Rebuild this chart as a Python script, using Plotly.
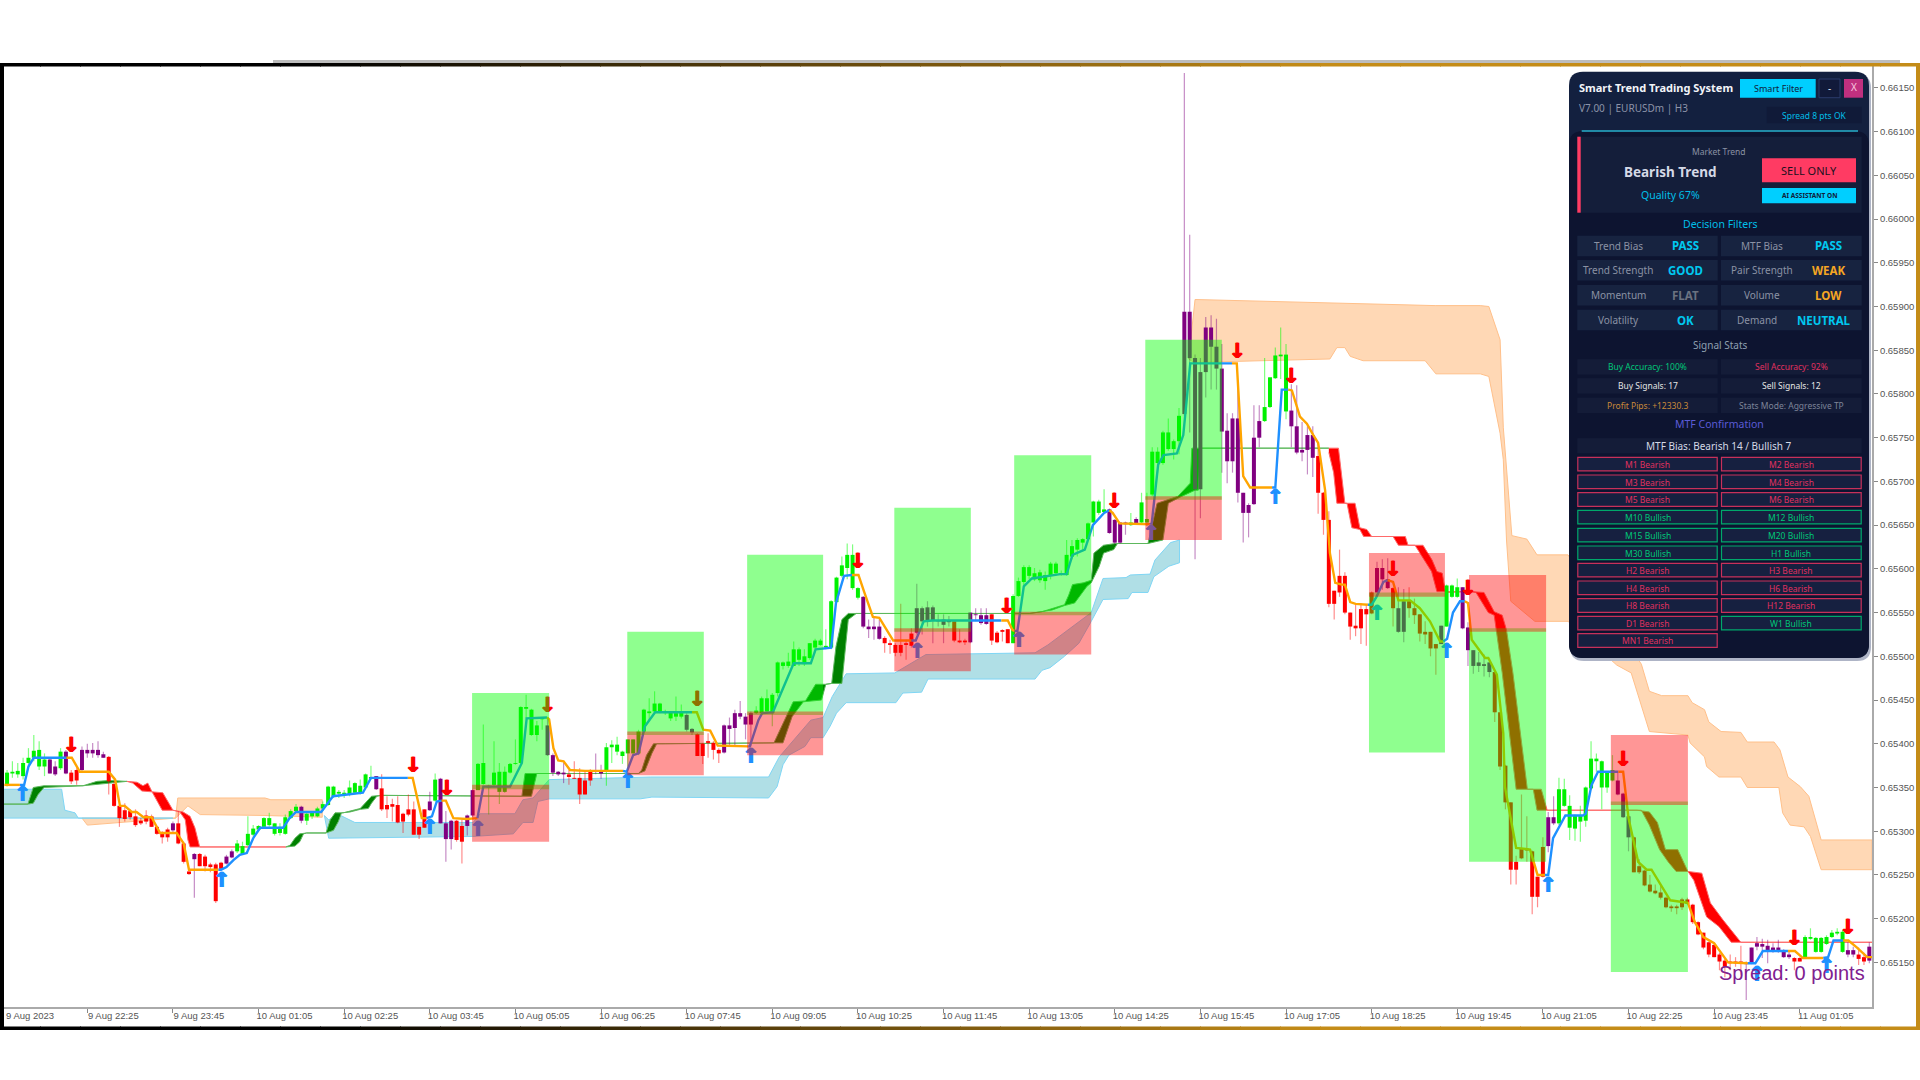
import plotly.graph_objects as go

# prices are in 1e-5 units (65150 = 0.65150), bars are counted from the left edge
bar_kind = (
    "G" * 8 + "PP" + "G" + "P" + "RR" + "P" * 5 + "R" * 12 + "P" + "RRR" + "P" + "R" * 5 + "PP" + "G"
    + "G" * 11 + "P" + "G" * 13 + "P" + "R" * 9 + "P" + "G" + "PPP" + "RR" + "PP"
    + "G" * 13 + "P" * 4 + "R" * 5 + "PP" + "G" * 15 + "PP" + "RRR"
    + "RR" + "P" * 6 + "G" * 20 + "P" * 4 + "R" * 6 + "P" * 7 + "RRR" + "P" * 4 + "R" * 4 + "G" * 18 + "P" * 4
    + "G" + "P" + "G"
    + "G" * 7 + "P" * 15 + "G" * 5 + "P" * 5 + "R" * 11 + "PPP" + "R" + "PP" + "R" * 6 + "P" + "GGG" + "P" * 6
    + "R" * 10 + "PP" + "G" * 11 + "PPP" + "R" * 21 + "P" * 9 + "RR" + "G" * 8 + "PP" + "RR" + "P"
)
bar_top = [
    65367, 65368, 65369, 65378, 65384, 65392, 65393, 65382, 65382, 65374, 65391, 65391, 65367, 65370, 65393,
    65393, 65393, 65393, 65388, 65385, 65354, 65329, 65324, 65323, 65317, 65312, 65318, 65317, 65305, 65299,
    65302, 65309, 65309, 65286, 65254, 65274, 65274, 65271, 65262, 65262, 65264, 65271, 65277, 65286,
    65283, 65297, 65303, 65306, 65315, 65315, 65309, 65305, 65316, 65323, 65328, 65328, 65320, 65321, 65326,
    65331, 65351, 65351, 65345, 65344, 65350, 65355, 65352, 65365, 65362, 65363, 65349, 65330, 65331, 65330,
    65320, 65325, 65325, 65305, 65325, 65334, 65359, 65360, 65309, 65312, 65312, 65306, 65318, 65347,
    65377, 65378, 65352, 65367, 65368, 65368, 65377, 65378, 65442, 65442, 65439, 65421, 65430, 65421, 65387,
    65368, 65367, 65365, 65361, 65361, 65358, 65370, 65370, 65370, 65396, 65399, 65399, 65391, 65405, 65405,
    65414, 65439, 65437, 65446, 65446, 65437, 65437, 65435, 65437, 65433, 65417, 65411, 65400, 65403,
    65401, 65393, 65421, 65421, 65435, 65435, 65431, 65435, 65438, 65452, 65452, 65456, 65493, 65493, 65494,
    65508, 65508, 65500, 65515, 65518, 65518, 65512, 65563, 65590, 65604, 65616, 65616, 65578, 65568, 65534,
    65534, 65534, 65521, 65515, 65513, 65513, 65515, 65526, 65555, 65555, 65556, 65556, 65541, 65542, 65541,
    65540, 65518, 65518, 65550, 65548, 65547, 65547, 65548, 65527, 65530, 65531, 65569, 65586, 65602, 65602,
    65595, 65596, 65593, 65606, 65606, 65595, 65616, 65626, 65633, 65634, 65652, 65677, 65677, 65668, 65668,
    65656, 65653, 65653, 65653, 65657, 65676,
    65657, 65734, 65734, 65756, 65756, 65746, 65775, 65894, 65894, 65841, 65825, 65876, 65876, 65854, 65829,
    65758, 65772, 65772, 65687, 65673, 65750, 65769, 65785, 65819, 65844, 65845, 65845, 65781, 65763, 65736,
    65753, 65753, 65729, 65687, 65656, 65575, 65592, 65592, 65550, 65535, 65554, 65554, 65573, 65601, 65601,
    65588, 65578, 65555, 65563, 65563, 65555, 65548, 65528, 65528, 65514, 65535, 65581, 65581, 65579, 65579,
    65533, 65507, 65493, 65491, 65493, 65482, 65436, 65375, 65333, 65265, 65280, 65280, 65277, 65248, 65282,
    65316, 65316, 65348, 65348, 65329, 65318, 65318, 65350, 65383, 65383, 65380, 65368, 65370, 65358, 65343,
    65317, 65293, 65260, 65255, 65239, 65232, 65230, 65224, 65214, 65214, 65222, 65222, 65216, 65196, 65184,
    65173, 65170, 65159, 65152, 65151, 65151, 65151, 65149, 65167, 65172, 65171, 65169, 65167, 65167, 65164,
    65159, 65155, 65155, 65179, 65179, 65178, 65178, 65179, 65184, 65185, 65185, 65164, 65164, 65159, 65156,
    65168,
]
bar_bottom = [
    65353, 65366, 65365, 65363, 65378, 65384, 65374, 65374, 65366, 65365, 65372, 65366, 65357, 65358, 65370,
    65389, 65389, 65387, 65384, 65357, 65329, 65315, 65314, 65316, 65307, 65309, 65311, 65305, 65297, 65293,
    65293, 65301, 65286, 65265, 65251, 65268, 65260, 65260, 65259, 65220, 65257, 65263, 65270, 65277,
    65274, 65284, 65296, 65302, 65305, 65307, 65297, 65298, 65297, 65315, 65323, 65312, 65312, 65317, 65317,
    65326, 65330, 65340, 65343, 65342, 65342, 65344, 65344, 65350, 65360, 65348, 65325, 65325, 65328, 65310,
    65311, 65319, 65296, 65296, 65304, 65324, 65335, 65309, 65291, 65291, 65290, 65288, 65306, 65318,
    65347, 65354, 65350, 65353, 65345, 65345, 65367, 65377, 65378, 65440, 65410, 65410, 65428, 65387, 65367,
    65365, 65365, 65362, 65360, 65342, 65342, 65358, 65368, 65366, 65368, 65396, 65391, 65386, 65389, 65389,
    65389, 65414, 65435, 65437, 65437, 65435, 65429, 65431, 65431, 65416, 65413, 65386, 65386, 65401,
    65393, 65389, 65390, 65417, 65418, 65431, 65422, 65422, 65435, 65435, 65437, 65435, 65458, 65489, 65489,
    65489, 65496, 65491, 65498, 65510, 65513, 65510, 65510, 65562, 65592, 65601, 65578, 65567, 65534, 65531,
    65531, 65520, 65515, 65513, 65504, 65504, 65513, 65512, 65527, 65540, 65540, 65541, 65540, 65536, 65539,
    65518, 65516, 65516, 65516, 65547, 65538, 65537, 65518, 65516, 65528, 65515, 65515, 65569, 65585, 65592,
    65588, 65587, 65586, 65592, 65595, 65593, 65593, 65614, 65622, 65630, 65634, 65653, 65664, 65665, 65641,
    65630, 65630, 65651, 65650, 65652, 65653,
    65653, 65685, 65721, 65721, 65737, 65737, 65746, 65777, 65841, 65691, 65691, 65825, 65854, 65829, 65757,
    65723, 65723, 65687, 65664, 65664, 65674, 65750, 65769, 65785, 65818, 65843, 65780, 65763, 65733, 65733,
    65736, 65727, 65687, 65656, 65560, 65560, 65573, 65550, 65534, 65532, 65532, 65548, 65549, 65573, 65588,
    65578, 65555, 65528, 65528, 65555, 65547, 65526, 65525, 65509, 65509, 65514, 65534, 65568, 65568, 65532,
    65507, 65489, 65489, 65489, 65482, 65436, 65374, 65333, 65256, 65256, 65269, 65278, 65225, 65225, 65248,
    65283, 65309, 65309, 65329, 65304, 65303, 65311, 65312, 65349, 65380, 65350, 65350, 65358, 65342, 65316,
    65293, 65253, 65253, 65238, 65231, 65229, 65224, 65213, 65212, 65212, 65213, 65217, 65196, 65182, 65167,
    65159, 65156, 65151, 65145, 65149, 65149, 65149, 65148, 65150, 65168, 65168, 65162, 65162, 65162, 65156,
    65156, 65151, 65151, 65154, 65177, 65162, 65162, 65171, 65179, 65183, 65162, 65159, 65159, 65154, 65151,
    65152,
]
bar_high = [
    65370, 65380, 65378, 65384, 65395, 65410, 65403, 65389, 65384, 65380, 65395, 65393, 65370, 65372, 65397,
    65400, 65401, 65403, 65391, 65386, 65357, 65330, 65332, 65325, 65325, 65315, 65324, 65319, 65306, 65300,
    65304, 65311, 65323, 65288, 65254, 65275, 65275, 65273, 65264, 65264, 65265, 65273, 65279, 65290,
    65288, 65317, 65307, 65307, 65316, 65321, 65309, 65309, 65319, 65325, 65331, 65329, 65321, 65321, 65328,
    65334, 65352, 65352, 65347, 65347, 65358, 65356, 65359, 65366, 65375, 65363, 65365, 65340, 65337, 65340,
    65321, 65342, 65334, 65305, 65325, 65345, 65366, 65361, 65323, 65313, 65313, 65313, 65319, 65348,
    65378, 65422, 65353, 65403, 65378, 65374, 65378, 65405, 65443, 65456, 65440, 65426, 65430, 65429, 65389,
    65369, 65378, 65370, 65380, 65372, 65368, 65371, 65389, 65376, 65401, 65404, 65408, 65392, 65405, 65405,
    65416, 65440, 65452, 65460, 65447, 65439, 65437, 65454, 65445, 65435, 65418, 65412, 65401, 65412,
    65403, 65395, 65422, 65430, 65439, 65449, 65435, 65437, 65443, 65454, 65462, 65458, 65494, 65494, 65504,
    65517, 65510, 65508, 65515, 65520, 65520, 65531, 65564, 65591, 65614, 65629, 65628, 65579, 65569, 65542,
    65544, 65542, 65523, 65519, 65515, 65560, 65519, 65532, 65583, 65557, 65563, 65558, 65548, 65548, 65546,
    65541, 65531, 65520, 65550, 65555, 65555, 65555, 65548, 65529, 65531, 65531, 65571, 65590, 65604, 65604,
    65601, 65599, 65597, 65608, 65608, 65598, 65633, 65633, 65635, 65635, 65653, 65678, 65679, 65691, 65669,
    65657, 65653, 65654, 65664, 65659, 65687,
    65687, 65739, 65739, 65758, 65772, 65748, 65784, 66167, 65982, 65845, 65841, 65888, 65890, 65886, 65857,
    65778, 65778, 65807, 65687, 65675, 65787, 65787, 65841, 65819, 65853, 65876, 65857, 65811, 65810, 65768,
    65763, 65763, 65745, 65688, 65666, 65575, 65622, 65596, 65550, 65559, 65561, 65559, 65574, 65608, 65611,
    65612, 65579, 65579, 65577, 65579, 65566, 65548, 65540, 65528, 65514, 65535, 65582, 65582, 65589, 65579,
    65539, 65507, 65505, 65502, 65494, 65483, 65436, 65376, 65333, 65272, 65342, 65317, 65278, 65248, 65293,
    65322, 65340, 65361, 65360, 65341, 65319, 65329, 65351, 65403, 65389, 65381, 65369, 65387, 65367, 65344,
    65317, 65294, 65268, 65256, 65250, 65239, 65239, 65225, 65216, 65216, 65224, 65224, 65217, 65197, 65184,
    65174, 65172, 65161, 65155, 65159, 65156, 65169, 65151, 65167, 65179, 65177, 65176, 65172, 65176, 65165,
    65162, 65156, 65156, 65181, 65189, 65179, 65179, 65181, 65187, 65189, 65187, 65173, 65168, 65167, 65161,
    65173,
]
bar_low = [
    65351, 65361, 65361, 65359, 65376, 65380, 65370, 65363, 65366, 65363, 65370, 65365, 65354, 65353, 65368,
    65384, 65384, 65384, 65384, 65342, 65328, 65305, 65311, 65313, 65305, 65307, 65308, 65305, 65296, 65286,
    65288, 65298, 65285, 65263, 65250, 65224, 65260, 65254, 65253, 65218, 65256, 65262, 65269, 65275,
    65273, 65283, 65294, 65300, 65305, 65305, 65295, 65295, 65296, 65314, 65321, 65309, 65307, 65314, 65316,
    65323, 65329, 65338, 65338, 65338, 65340, 65342, 65342, 65348, 65359, 65347, 65323, 65315, 65311, 65309,
    65298, 65317, 65296, 65291, 65304, 65323, 65334, 65309, 65265, 65279, 65288, 65263, 65295, 65316,
    65347, 65353, 65319, 65351, 65331, 65344, 65366, 65376, 65377, 65429, 65409, 65403, 65416, 65386, 65363,
    65363, 65355, 65353, 65360, 65331, 65342, 65352, 65365, 65360, 65352, 65378, 65387, 65377, 65374, 65387,
    65387, 65413, 65426, 65435, 65435, 65433, 65426, 65426, 65429, 65414, 65410, 65386, 65377, 65384,
    65382, 65378, 65389, 65397, 65397, 65428, 65405, 65397, 65434, 65433, 65435, 65420, 65454, 65485, 65487,
    65489, 65489, 65489, 65496, 65508, 65512, 65508, 65508, 65561, 65590, 65588, 65576, 65565, 65532, 65521,
    65519, 65519, 65504, 65503, 65500, 65500, 65496, 65510, 65525, 65525, 65534, 65515, 65534, 65515, 65534,
    65516, 65515, 65513, 65515, 65540, 65536, 65536, 65513, 65515, 65517, 65515, 65515, 65568, 65580, 65588,
    65586, 65584, 65576, 65588, 65592, 65592, 65592, 65611, 65614, 65620, 65632, 65637, 65662, 65664, 65640,
    65628, 65629, 65639, 65649, 65651, 65651,
    65649, 65683, 65710, 65719, 65735, 65725, 65731, 65775, 65756, 65611, 65658, 65796, 65805, 65805, 65710,
    65698, 65710, 65676, 65630, 65636, 65673, 65739, 65768, 65784, 65817, 65817, 65771, 65739, 65731, 65723,
    65708, 65705, 65663, 65639, 65556, 65542, 65568, 65548, 65519, 65523, 65514, 65512, 65548, 65573, 65576,
    65577, 65534, 65527, 65516, 65544, 65537, 65517, 65514, 65500, 65479, 65514, 65534, 65567, 65567, 65531,
    65489, 65480, 65482, 65477, 65476, 65425, 65370, 65325, 65239, 65239, 65268, 65265, 65205, 65213, 65247,
    65276, 65307, 65307, 65328, 65290, 65289, 65288, 65305, 65348, 65368, 65325, 65344, 65357, 65341, 65315,
    65277, 65253, 65251, 65237, 65230, 65228, 65222, 65212, 65208, 65205, 65210, 65216, 65194, 65181, 65165,
    65156, 65156, 65141, 65133, 65141, 65145, 65136, 65107, 65148, 65164, 65155, 65149, 65161, 65161, 65155,
    65154, 65141, 65151, 65154, 65176, 65161, 65161, 65170, 65178, 65181, 65161, 65156, 65156, 65147, 65147,
    65149,
]

# cloud bands: tops and bottoms of each cloud piece
peach_top_x = [
    [15, 32.5, 32.9, 49.2, 50.3, 59.9],
    [221.8, 223, 268, 276.3, 277.9, 280, 280.6, 282.2, 285, 286.9, 292.7, 306.4, 307.9, 310.2, 315.1, 315.9, 318.2,
     319, 321.3, 325, 326.2, 331.2, 332.3, 333.8, 336.1, 337.7, 340, 349.5],
]
peach_top_y = [
    [65315, 65315, 65338, 65338, 65336, 65336],
    [65840, 65908, 65901, 65901, 65900, 65862, 65762, 65638, 65634, 65616, 65616, 65491, 65460, 65455, 65455, 65447,
     65439, 65425, 65414, 65413, 65402, 65402, 65393, 65362, 65351, 65340, 65290, 65290],
]
peach_bot_x = [
    [15, 16, 32.5, 34.8, 37.1, 49.2, 59.9],
    [221.8, 222.8, 248.2, 249.5, 251, 252, 254.4, 266, 268, 276.3, 277.9, 280, 280.6, 281.2, 282, 286.5, 292.7, 301.8,
     304.5, 307.9, 315.1, 315.5, 318.2, 318.6, 320.9, 325, 326.2, 332.1, 332.8, 334.2, 336.8, 338, 340, 349.5],
]
peach_bot_y = [
    [65315, 65307, 65315, 65329, 65319, 65318, 65316],
    [65840, 65836, 65840, 65853, 65853, 65843, 65838, 65838, 65823, 65823, 65820, 65755, 65725, 65633, 65563, 65540,
     65540, 65490, 65481, 65414, 65410, 65401, 65385, 65374, 65362, 65362, 65350, 65350, 65321, 65307, 65305, 65294,
     65256, 65256],
]
blue_top_x = [
    [0.4, 11.2, 11.8, 13.7, 14.3, 32],
    [60.3, 61.1, 63, 66, 88.1, 89.4, 95.9, 97.4, 99.3, 102.3, 121.2, 143.3, 145.3, 147.5, 151.2, 153.5, 155.2, 157.8,
     166.9, 172.7, 193.1, 195.5, 198.6, 203.6, 205.8, 210.1, 210.9, 214.6, 215.5, 218.4, 220.1],
]
blue_top_y = [
    [65348, 65348, 65324, 65321, 65315, 65315],
    [65318, 65313, 65319, 65310, 65310, 65320, 65320, 65336, 65338, 65359, 65362, 65362, 65385, 65401, 65427, 65430,
     65454, 65480, 65481, 65502, 65504, 65513, 65527, 65550, 65589, 65590, 65593, 65594, 65610, 65630, 65633],
]
blue_bot_x = [
    [0.4, 32],
    [60.3, 61.1, 88, 95.6, 97.4, 99.3, 100.2, 102.3, 119.3, 121.5, 143.3, 144.9, 146, 147.1, 150.1, 151.2, 153.5,
     154.8, 156, 157.8, 167.1, 168.4, 171.9, 173.1, 193.1, 194.4, 195.9, 198.6, 201.3, 203.6, 205.8, 210.5, 211.2,
     214.2, 215.3, 218.1, 220.1],
]
blue_bot_y = [
    [65315, 65315],
    [65318, 65292, 65294, 65297, 65310, 65310, 65334, 65337, 65337, 65339, 65338, 65351, 65376, 65387, 65397, 65407,
     65407, 65420, 65435, 65447, 65447, 65458, 65459, 65474, 65474, 65484, 65487, 65500, 65515, 65540, 65565, 65566,
     65573, 65573, 65591, 65603, 65607],
]

# trend ribbon, green and red in turn
ribbon_color = ["#008000", "#FF0000", "#008000", "#FF0000"]
ribbon_edge = ["#5DB85D", "#FF6A6A", "#5DB85D", "#FF6A6A"]
ribbon_top_x = [
    [0.4, 4.9, 5.9, 7.9, 15.2, 17.8, 20.2, 23.4],
    [23.4, 25.3, 26.4, 27.3, 28.1, 30.1, 32, 33.9, 35.2, 36.1, 37, 53.1],
    [53.1, 53.9, 54.8, 55.7, 57, 60.6, 61.4, 62.3, 63.8, 67, 68.5, 69.1, 71, 97.2, 97.8, 100, 119, 119.6, 120.5, 121.8,
     124, 144.3, 147.9, 150.2, 152.1, 154, 155.1, 155.9, 157, 158.2, 160.1, 192.1, 194.4, 196.3, 198.6, 199.4, 200.1,
     202.1, 203.6, 204.1, 205.9, 208.1, 214.2, 215.9, 218, 219.8, 222.1, 222.4, 224, 248],
    [248, 249.8, 251, 252.9, 253.8, 255.1, 256, 262.3, 262.8, 265.6, 267.3, 268.2, 269.2, 269.8, 274.4, 277, 278.9,
     280.4, 281.2, 282.4, 285.1, 287.7, 288.8, 305.6, 307.9, 309.4, 310.9, 313.2, 315.1, 317.7, 319.3, 321.6, 325,
     349.5],
]
ribbon_top_y = [
    [65331, 65331, 65350, 65352, 65352, 65357, 65358, 65357],
    [65357, 65356, 65352, 65355, 65345, 65344, 65324, 65322, 65317, 65304, 65282, 65282],
    [65282, 65284, 65292, 65297, 65298, 65298, 65313, 65321, 65321, 65326, 65336, 65340, 65341, 65340, 65366, 65366,
     65366, 65370, 65387, 65400, 65400, 65401, 65448, 65449, 65468, 65468, 65469, 65511, 65542, 65549, 65549, 65549,
     65551, 65555, 65559, 65570, 65582, 65584, 65587, 65618, 65627, 65629, 65629, 65675, 65679, 65683, 65698, 65738,
     65738, 65738],
    [65738, 65738, 65675, 65675, 65647, 65645, 65637, 65637, 65627, 65627, 65610, 65597, 65595, 65573, 65574, 65573,
     65551, 65547, 65530, 65481, 65348, 65348, 65324, 65324, 65322, 65310, 65279, 65279, 65254, 65252, 65218, 65199,
     65173, 65173],
]
ribbon_bot_x = [
    [0.4, 4.9, 5.9, 6.8, 7.9, 15.2, 20.2, 23.4],
    [23.4, 24.5, 26.2, 28.1, 29, 30, 32, 33.3, 34.3, 34.8, 35.2, 37, 53.1],
    [53.1, 54.8, 55.7, 56.4, 57, 60.6, 62, 62.9, 63.5, 65.1, 67, 68.5, 69.1, 70.1, 71, 97.2, 99, 100, 119, 120.2, 121.5,
     122.4, 124, 144.3, 146, 147.7, 149.8, 150.9, 153.2, 154, 155.1, 157, 158.2, 159.7, 160.1, 192.1, 196.3, 198.6,
     200.5, 202.8, 203.6, 205.1, 205.9, 207.8, 208.5, 214.2, 217, 218, 220.2, 223, 223.6, 224, 248],
    [248, 248.9, 249.5, 251.4, 252.3, 253.8, 254.5, 260, 261, 264.1, 265.6, 267.2, 268.2, 269.8, 274.4, 275.5, 277.8,
     278.9, 279.3, 280.4, 283, 286.2, 286.9, 288.8, 305.6, 306.4, 307.9, 309.8, 311.4, 312.9, 315.1, 316.2, 318.6,
     320.9, 323.2, 325, 349.5],
]
ribbon_bot_y = [
    [65331, 65331, 65332, 65342, 65350, 65352, 65355, 65357],
    [65357, 65355, 65346, 65345, 65336, 65324, 65324, 65322, 65313, 65290, 65282, 65282, 65282],
    [65282, 65283, 65288, 65297, 65298, 65298, 65301, 65311, 65321, 65322, 65325, 65326, 65332, 65340, 65341, 65340,
     65340, 65366, 65366, 65369, 65389, 65400, 65400, 65401, 65401, 65431, 65448, 65449, 65450, 65468, 65469, 65469,
     65542, 65549, 65549, 65549, 65553, 65558, 65561, 65580, 65584, 65603, 65618, 65622, 65629, 65629, 65633, 65675,
     65682, 65690, 65690, 65738, 65738],
    [65733, 65710, 65675, 65675, 65647, 65645, 65637, 65637, 65627, 65627, 65612, 65597, 65574, 65574, 65574, 65573,
     65550, 65547, 65530, 65481, 65348, 65348, 65324, 65324, 65324, 65324, 65307, 65279, 65265, 65254, 65254, 65244,
     65202, 65191, 65173, 65173, 65173],
]

# trend line runs, orange and blue in turn
trend_x = [
    [0.5, 3.4],
    [3.4, 4.2, 5, 6, 12.1],
    [12.1, 13.1, 14.6, 20, 21.2, 22.1, 23, 24.3, 25.2, 26.5, 28, 29.6, 32.7, 34, 35, 40.5],
    [40.5, 41, 42, 43.3, 44.5, 45.8, 47, 48.3, 52.6, 53.8, 55, 59.7, 61.9, 67.5, 69, 75.9],
    [75.9, 76.8, 78.5, 79.4],
    [79.4, 80.4, 81.3, 82.2],
    [82.2, 83, 84.4, 86.9, 88.9],
    [88.9, 90, 95, 97.2, 98.1, 101.9],
    [101.9, 102.3, 103.1, 104, 105, 106.2, 109, 116.1],
    [116.1, 116.8, 118, 119, 120.2, 122.1, 129],
    [129, 129.9, 131.1, 132.4, 133.8, 139.5],
    [139.5, 139.8, 141.4, 142.1, 144.1, 148, 151.2, 152.1, 155, 155.9, 157.4, 158.9],
    [158.9, 160.1, 161.2, 162.8, 164, 166.6, 170],
    [170, 170.8, 172.3, 173.9, 186.8],
    [186.8, 188, 188.9, 189.3],
    [189.3, 189.8, 191, 192.5, 197.8, 199, 200.1, 202.4, 203.9, 206, 207],
    [207, 207.6, 208.9, 214.6],
    [214.6, 214.9, 216.1, 217.1, 219.6, 220.8, 222.1, 229.9],
    [229.9, 230.8, 232, 233.3, 237.4],
    [237.4, 238, 239.2, 240.4],
    [240.4, 241.1, 242.6, 243.9, 245.1, 246, 247.3, 248.2, 249.2, 250.4, 251, 252, 253, 255.3],
    [255.3, 256, 256.9, 258.2, 259],
    [259, 260, 261, 263.2, 265, 266.9, 268.8, 269.4],
    [269.4, 270.1, 271.2, 272.5, 273.4],
    [273.4, 274, 274.7, 277.2, 277.8, 279.4, 280.6, 280.9, 283, 285.6, 287, 288.4],
    [288.4, 289, 289.9, 290.9, 292.2, 295.5, 296, 297.1, 298.3, 302.1],
    [302.1, 303, 304, 305.8, 307.4, 308.3, 311.8, 315.1, 316.4, 318, 320, 322.6, 326.3],
    [326.3, 327.7, 329.1, 333.8],
    [333.8, 335.1, 336.6, 340.4],
    [340.4, 341.3, 342.3, 344.1],
    [344.1, 345.1, 346.7, 348.6, 349.5],
]
trend_y = [
    [65353, 65353],
    [65353, 65353, 65374, 65384, 65384],
    [65384, 65384, 65368, 65368, 65359, 65329, 65329, 65322, 65322, 65316, 65316, 65298, 65298, 65286, 65256, 65256],
    [65256, 65256, 65259, 65267, 65273, 65275, 65292, 65304, 65304, 65315, 65322, 65322, 65340, 65344, 65361, 65361],
    [65361, 65361, 65315, 65315],
    [65315, 65317, 65334, 65335],
    [65335, 65335, 65315, 65314, 65315],
    [65315, 65351, 65351, 65378, 65429, 65430],
    [65430, 65428, 65395, 65381, 65380, 65370, 65369, 65369],
    [65369, 65368, 65387, 65389, 65420, 65436, 65436],
    [65436, 65436, 65416, 65415, 65398, 65397],
    [65397, 65397, 65427, 65435, 65436, 65492, 65492, 65508, 65510, 65561, 65592, 65593],
    [65593, 65593, 65573, 65545, 65544, 65518, 65518],
    [65518, 65518, 65540, 65541, 65541],
    [65541, 65541, 65530, 65529],
    [65529, 65529, 65580, 65589, 65594, 65594, 65616, 65622, 65650, 65664, 65667],
    [65667, 65664, 65652, 65651],
    [65651, 65652, 65719, 65730, 65732, 65753, 65835, 65835],
    [65835, 65835, 65706, 65693, 65693],
    [65693, 65693, 65805, 65805],
    [65805, 65804, 65774, 65766, 65753, 65744, 65690, 65618, 65584, 65582, 65582, 65562, 65560, 65559],
    [65559, 65559, 65568, 65585, 65587],
    [65587, 65585, 65564, 65564, 65555, 65540, 65517, 65517],
    [65517, 65520, 65550, 65563, 65563],
    [65563, 65561, 65519, 65498, 65498, 65479, 65412, 65351, 65281, 65279, 65250, 65250],
    [65250, 65250, 65292, 65304, 65318, 65318, 65320, 65353, 65368, 65368],
    [65368, 65368, 65315, 65265, 65256, 65256, 65221, 65218, 65196, 65179, 65172, 65150, 65149],
    [65149, 65149, 65163, 65163],
    [65163, 65163, 65155, 65155],
    [65155, 65156, 65175, 65175],
    [65175, 65175, 65167, 65156, 65156],
]

sell_x = [13, 76.9, 83.2, 102, 130, 160, 187.8, 207.9, 230.9, 241, 260, 274, 303, 335, 345]
sell_y = [65397, 65374, 65347, 65442, 65449, 65607, 65555, 65676, 65847, 65818, 65598, 65576, 65381, 65176, 65188]
buy_x = [3.9, 41.1, 80, 89, 117, 140, 171.1, 190.1, 214.8, 238, 257, 270, 289, 328, 341]
buy_y = [65340, 65242, 65303, 65301, 65355, 65384, 65504, 65517, 65639, 65680, 65547, 65504, 65237, 65135, 65144]

# trade boxes: a green part and a red part with a small overlap
zone_x0 = [87.9, 116.9, 139.3, 166.8, 189.2, 213.7, 255.5, 274.2, 300.7]
zone_x1 = [102.3, 131.2, 153.5, 181.1, 203.6, 228, 269.7, 288.6, 315.1]
zone_green_top = [65458, 65528, 65616, 65670, 65730, 65862, 65573, 65532, 65334]
zone_green_bot = [65348, 65410, 65433, 65528, 65547, 65679, 65390, 65265, 65139]
zone_red_top = [65353, 65414, 65437, 65532, 65551, 65683, 65618, 65593, 65410]
zone_red_bot = [65288, 65364, 65387, 65483, 65502, 65633, 65568, 65528, 65330]

price_ticks = [65150 + 50 * i for i in range(21)]
time_ticks = [16 * i for i in range(1, 22)]
time_labels = [
    "9 Aug 22:25", "9 Aug 23:45", "10 Aug 01:05", "10 Aug 02:25", "10 Aug 03:45", "10 Aug 05:05", "10 Aug 06:25",
    "10 Aug 07:45", "10 Aug 09:05", "10 Aug 10:25", "10 Aug 11:45", "10 Aug 13:05", "10 Aug 14:25", "10 Aug 15:45",
    "10 Aug 17:05", "10 Aug 18:25", "10 Aug 19:45", "10 Aug 21:05", "10 Aug 22:25", "10 Aug 23:45", "11 Aug 01:05",
]

filter_names = [["Trend Bias", "MTF Bias"], ["Trend Strength", "Pair Strength"], ["Momentum", "Volume"],
                ["Volatility", "Demand"]]
filter_values = [["PASS", "PASS"], ["GOOD", "WEAK"], ["FLAT", "LOW"], ["OK", "NEUTRAL"]]
filter_colors = [["#00C8F0", "#00C8F0"], ["#00C8F0", "#F5A623"], ["#6B7280", "#F5A623"], ["#00C8F0", "#00C8F0"]]
stats_text = [["Buy Accuracy: 100%", "Sell Accuracy: 92%"], ["Buy Signals: 17", "Sell Signals: 12"],
              ["Profit Pips: +12330.3", "Stats Mode: Aggressive TP"]]
stats_colors = [["#00C878", "#E0305F"], ["#E5E5E5", "#E5E5E5"], ["#C98A3A", "#7E8599"]]
mtf_cells = [
    ["M1 Bearish", "M2 Bearish"], ["M3 Bearish", "M4 Bearish"], ["M5 Bearish", "M6 Bearish"],
    ["M10 Bullish", "M12 Bullish"], ["M15 Bullish", "M20 Bullish"], ["M30 Bullish", "H1 Bullish"],
    ["H2 Bearish", "H3 Bearish"], ["H4 Bearish", "H6 Bearish"], ["H8 Bearish", "H12 Bearish"],
    ["D1 Bearish", "W1 Bullish"], ["MN1 Bearish"],
]

lengths = [len(bar_kind), len(bar_top), len(bar_bottom), len(bar_high), len(bar_low)]
assert lengths == [349] * 5, lengths


def px(x):
    return x / 1920


def py(y):
    return 1 - y / 1080


def band(xs_top, ys_top, xs_bot, ys_bot, fill, edge, width=1):
    return go.Scatter(
        x=xs_top + xs_bot[::-1], y=ys_top + ys_bot[::-1], mode="lines", fill="toself", fillcolor=fill,
        line=dict(color=edge, width=width), hoverinfo="skip", showlegend=False,
    )


def sticks(kind, lo, hi, color, width):
    xs, ys = [], []
    for i, k in enumerate(bar_kind):
        if k == kind:
            xs += [i + 1, i + 1, None]
            ys += [lo[i], hi[i], None]
    return go.Scatter(x=xs, y=ys, mode="lines", line=dict(color=color, width=width, simplify=False),
                      hoverinfo="skip", showlegend=False)


def arrows(xs, ys, glyph, color):
    thick = f"0.8px 0 0 {color}, -0.8px 0 0 {color}"
    return go.Scatter(x=xs, y=ys, mode="text", text=[glyph] * len(xs), showlegend=False, hoverinfo="skip",
                      textfont=dict(family="DejaVu Sans", size=21, color=color, weight=700, shadow=thick))


fig = go.Figure()

for i in range(len(peach_top_x)):
    fig.add_trace(band(peach_top_x[i], peach_top_y[i], peach_bot_x[i], peach_bot_y[i], "#FFD8B5", "#FFC08A"))
for i in range(len(blue_top_x)):
    fig.add_trace(band(blue_top_x[i], blue_top_y[i], blue_bot_x[i], blue_bot_y[i], "#B0DFE6", "#7FD6F5"))
for i in range(len(ribbon_top_x)):
    fig.add_trace(band(ribbon_top_x[i], ribbon_top_y[i], ribbon_bot_x[i], ribbon_bot_y[i],
                       ribbon_color[i], ribbon_edge[i]))

wick_colors = {"G": "rgba(0,255,0,0.5)", "R": "rgba(255,0,0,0.45)", "P": "rgba(128,0,128,0.45)"}
body_colors = {"G": "#00F000", "R": "#FF0000", "P": "#800080"}
for kind in "GRP":
    fig.add_trace(sticks(kind, bar_low, bar_high, wick_colors[kind], 1.2))
for kind in "GRP":
    fig.add_trace(sticks(kind, bar_bottom, bar_top, body_colors[kind], 4))

for i in range(len(trend_x)):
    fig.add_trace(go.Scatter(x=trend_x[i], y=trend_y[i], mode="lines", hoverinfo="skip", showlegend=False,
                             line=dict(color="#FFA500" if i % 2 == 0 else "#1E90FF", width=2.4)))

fig.add_trace(arrows(sell_x, sell_y, "↓", "#FF0000"))
fig.add_trace(arrows(buy_x, buy_y, "↑", "#1E90FF"))

shapes = []
notes = []


def box(x0, y0, x1, y1, fill, line=None, width=0):
    shapes.append(dict(type="rect", xref="paper", yref="paper", x0=px(x0), x1=px(x1), y0=py(y0), y1=py(y1),
                       fillcolor=fill, line=dict(color=line or fill, width=width), layer="above"))


def round_box(x0, y0, x1, y1, r, fill):
    a, b, c, d = px(x0), px(x1), py(y0), py(y1)
    rx, ry = r / 1920, r / 1080
    path = (f"M {a + rx} {c} L {b - rx} {c} Q {b} {c} {b} {c - ry} L {b} {d + ry} Q {b} {d} {b - rx} {d} "
            f"L {a + rx} {d} Q {a} {d} {a} {d + ry} L {a} {c - ry} Q {a} {c} {a + rx} {c} Z")
    shapes.append(dict(type="path", xref="paper", yref="paper", path=path, fillcolor=fill,
                       line=dict(color=fill, width=0), layer="above"))


def label(x, y, text, size, color, anchor="center", family="Noto Sans"):
    notes.append(dict(xref="paper", yref="paper", x=px(x), y=py(y), text=text, showarrow=False, xanchor=anchor,
                      yanchor="middle", font=dict(size=size, color=color, family=family)))


# trade boxes sit over the candles, which is why candles look dull through them
for i in range(len(zone_x0)):
    shapes.append(dict(type="rect", x0=zone_x0[i], x1=zone_x1[i], y0=zone_green_bot[i], y1=zone_green_top[i],
                       xref="x", yref="y", fillcolor="rgba(0,255,0,0.44)", line_width=0, layer="above"))
    shapes.append(dict(type="rect", x0=zone_x0[i], x1=zone_x1[i], y0=zone_red_bot[i], y1=zone_red_top[i],
                       xref="x", yref="y", fillcolor="rgba(255,0,0,0.41)", line_width=0, layer="above"))

# window frame
gold = (196, 140, 24)
for i in range(48):
    x0 = i * 40
    t = min(max((x0 - 300) / 1000, 0), 1)
    c = "rgb({},{},{})".format(*[int(v * t) for v in gold])
    box(x0, 63, x0 + 41, 66.5, c)
    box(x0, 1026.5, x0 + 41, 1030, c)
box(0, 63, 4, 1030, "#000000")
box(1916, 63, 1920, 1030, "rgb(196,140,24)")
box(273, 60, 1900, 63, "#BDBDBD")

# panel
LEFT, RIGHT = (1577.3, 1717.7), (1721, 1861.7)
round_box(1570, 74, 1871, 661, 14, "#AEB4C6")
round_box(1569, 71.7, 1869, 658, 14, "#13203F")
round_box(1569, 131, 1869, 658, 14, "#0D1430")
box(1581.7, 130.3, 1858, 131.7, "#27AFCB")
label(1577, 87.7, "<b>Smart Trend Trading System</b>", 11, "#F2F4F8", anchor="left")
label(1577, 108, "V7.00 | EURUSDm | H3", 10, "#8C93A8", anchor="left")
box(1740, 79, 1815.7, 97.7, "#00CFFF")
label(1778, 88, "Smart Filter", 9, "#10203A")
box(1819, 79, 1840, 97.7, "#111A3A", "#2A3A6A", 1)
label(1829.5, 88, "-", 10, "#E0E4F0")
box(1844, 79, 1863, 97.7, "#C0307F")
label(1853.5, 87.5, "X", 10, "#F8C8E0")
box(1766.7, 106.7, 1861.7, 123.3, "#101A38")
label(1814, 115, "Spread 8 pts OK", 8.5, "#00BFE8")

box(1577.3, 136.7, 1861.7, 212.7, "#141E3A")
box(1577.3, 136.7, 1580.7, 212.7, "#FF3B63")
label(1719, 151, "Market Trend", 8.5, "#8B92A4")
label(1670.7, 172.3, "<b>Bearish Trend</b>", 13.5, "#D5D9E6")
label(1670.7, 195.3, "Quality 67%", 10.5, "#00BFE8")
box(1762, 158.3, 1856, 182.3, "#FF3B63")
label(1809, 170, "SELL ONLY", 11, "#1A1020")
box(1762, 188, 1856, 203.3, "#00CFFF")
label(1809, 196, "<b>AI ASSISTANT ON</b>", 6.5, "#10203A")

label(1720, 223.7, "Decision Filters", 10.5, "#00BFE8")
filter_tops = [235.7, 260, 285, 309.7]
for r, top in enumerate(filter_tops):
    for c, (x0, x1) in enumerate((LEFT, RIGHT)):
        box(x0, top, x1, top + 20.6, "#172340")
        # the last row on the right sits a little further left in the reference
        nudge = 5 if filter_names[r][c] == "Demand" else 0
        label(x0 + 41 - nudge, top + 10.3, filter_names[r][c], 10, "#8B92A4")
        label(x0 + 107.7 - nudge, top + 10.3, f"<b>{filter_values[r][c]}</b>", 11.5, filter_colors[r][c])

label(1720, 345.3, "Signal Stats", 10, "#8FA0B0")
stats_tops = [359.3, 378.3, 397.7]
for r, top in enumerate(stats_tops):
    for c, (x0, x1) in enumerate((LEFT, RIGHT)):
        box(x0, top, x1, top + 15.2, "#141C38")
        label((x0 + x1) / 2, top + 7.6, stats_text[r][c], 8.5, stats_colors[r][c])

label(1719, 424.3, "MTF Confirmation", 10.5, "#5B5BD6")
box(1577.3, 438.3, 1861.7, 453.3, "#141C38")
label(1719, 446, "MTF Bias: Bearish 14 / Bullish 7", 10, "#D5D9E6")
mtf_tops = [457.3, 475, 492.7, 510.3, 528.3, 546, 563.3, 581, 598.7, 616.3, 633.7]
for r, top in enumerate(mtf_tops):
    for c, name in enumerate(mtf_cells[r]):
        x0, x1 = (LEFT, RIGHT)[c]
        tone = "#00A86B" if "Bullish" in name else "#C8305A"
        box(x0 + 0.5, top, x1 - 0.5, top + 13.6, "#162040", tone, 1.2)
        label((x0 + x1) / 2, top + 7, name, 8.5, "#00C878" if "Bullish" in name else "#E0305F")

label(4, 1015, "9 Aug 2023", 9.5, "#555555", anchor="left", family="Liberation Sans")
label(1792, 973, "Spread: 0 points", 20, "#80208F", family="Liberation Sans")

fig.update_layout(
    width=1920,
    height=1080,
    margin=dict(l=0, r=0, t=0, b=0, pad=0),
    paper_bgcolor="#FFFFFF",
    plot_bgcolor="#FFFFFF",
    showlegend=False,
    shapes=shapes,
    annotations=notes,
    xaxis=dict(
        domain=[px(4), px(1872)], range=[0.43, 349.5], tickmode="array", tickvals=time_ticks, ticktext=time_labels,
        ticks="outside", ticklen=4, tickcolor="#888888", showgrid=False, zeroline=False, showline=True,
        linecolor="#AAAAAA", linewidth=2, ticklabelshift=26, ticklabelstandoff=-5,
        tickfont=dict(family="Liberation Sans", size=9.5, color="#555555"),
    ),
    yaxis=dict(
        domain=[py(1007), py(66)], range=[65099, 66175], side="right", tickmode="array", tickvals=price_ticks,
        ticktext=[f"0.{p}" for p in price_ticks], ticks="outside", ticklen=4, tickcolor="#888888", showgrid=False,
        zeroline=False, showline=True, linecolor="#AAAAAA", linewidth=2,
        tickfont=dict(family="Liberation Sans", size=9.5, color="#555555"),
    ),
)

fig.write_html("out.html", config=dict(displayModeBar=False),
               post_script="document.body.style.margin='0';document.documentElement.style.overflow='hidden';")
